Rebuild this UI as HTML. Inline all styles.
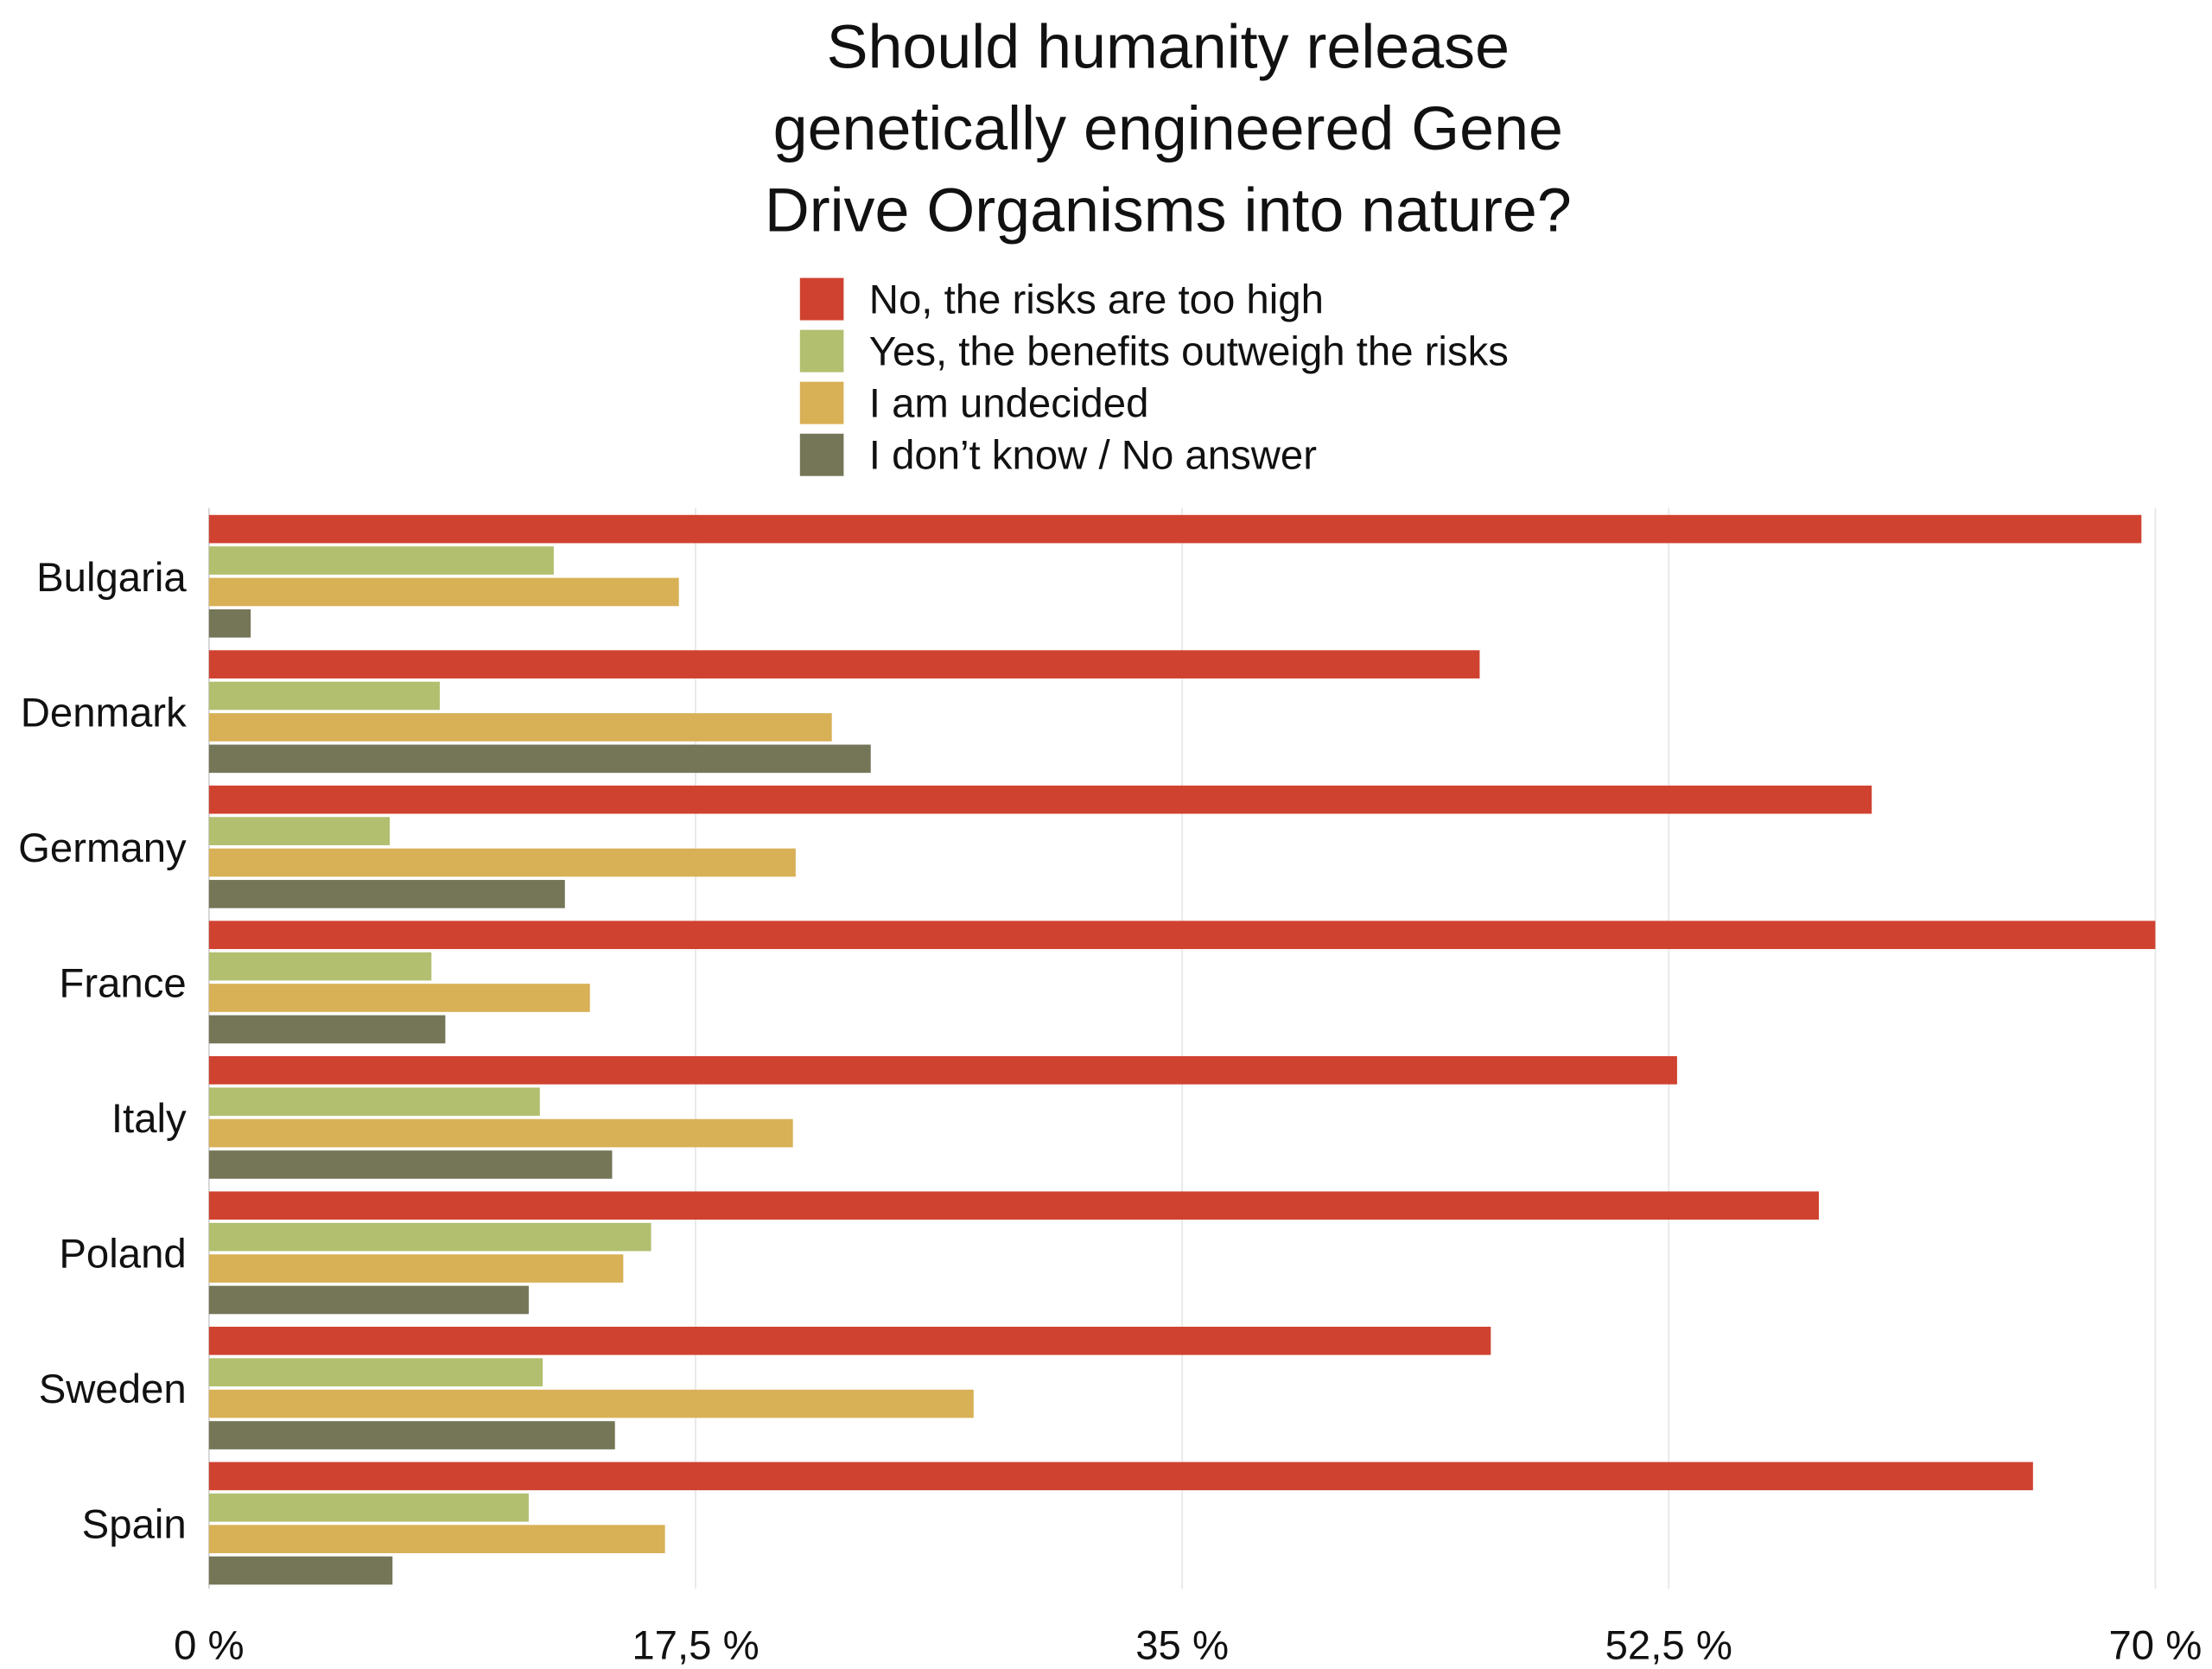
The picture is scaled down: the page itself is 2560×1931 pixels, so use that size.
<!DOCTYPE html>
<html><head><meta charset="utf-8"><style>html,body{margin:0;padding:0;background:#fff}svg{display:block}</style></head>
<body>
<svg id="chart" width="2560" height="1931" viewBox="0 0 1568 1183" xmlns="http://www.w3.org/2000/svg" font-family="'Liberation Sans', sans-serif">
<g font-size="44" text-anchor="middle" fill="#111">
<text x="828" y="48">Should humanity release</text>
<text x="828" y="106">genetically engineered Gene</text>
<text x="828" y="164">Drive Organisms into nature?</text>
</g>
<g id="legend" font-size="29" fill="#111"></g>
<g id="grid"></g>
<g id="bars"></g>
<g id="ylabels" font-size="29" text-anchor="end" fill="#111"></g>
<g id="xlabels" font-size="29" text-anchor="middle" fill="#111"></g>
</svg>
<script>
const categories = ["Bulgaria","Denmark","Germany","France","Italy","Poland","Sweden","Spain"];
const seriesNames = ["No, the risks are too high","Yes, the benefits outweigh the risks","I am undecided","I don\u2019t know / No answer"];
const noValues = [69.5,45.7,59.8,70.0,52.8,57.9,46.1,65.6];
const yesValues = [12.4,8.3,6.5,8.0,11.9,15.9,12.0,11.5];
const undecidedValues = [16.9,22.4,21.1,13.7,21.0,14.9,27.5,16.4];
const dontKnowValues = [1.5,23.8,12.8,8.5,14.5,11.5,14.6,6.6];
const tickValues = [0,17.5,35,52.5,70];
const tickLabels = ["0 %","17,5 %","35 %","52,5 %","70 %"];

const colors = ["#d04230","#b1bf6f","#d8b056","#757558"];
const series = [noValues,yesValues,undecidedValues,dontKnowValues];
const NS="http://www.w3.org/2000/svg";
const x0=148, x1=1528, xmax=70;
const xScale=v=>x0+(x1-x0)*v/xmax;
const top0=365, groupPitch=95.9, barPitch=22.3, barH=20;
const yBar=(ci,si)=>top0+ci*groupPitch+si*barPitch;
function mk(tag,attrs,parent){const e=document.createElementNS(NS,tag);for(const k in attrs)e.setAttribute(k,attrs[k]);parent.appendChild(e);return e;}

const lg=document.getElementById('legend');
seriesNames.forEach((n,i)=>{
  const r=mk('rect',{x:567,y:197+i*36.8,width:31,height:30,fill:colors[i]},lg);
  
  
  const t=mk('text',{x:616,y:222+i*36.8},lg);t.textContent=n;
  
  
});

const grid=document.getElementById('grid');
const xl=document.getElementById('xlabels');
tickValues.forEach((v,i)=>{
  const l=mk('line',{x1:xScale(v),x2:xScale(v),y1:360,y2:1126,stroke:i===0?'#d0d0d0':'#e6e6e6','stroke-width':1},grid);
  
  
  const t=mk('text',{x:xScale(v),y:1176},xl);t.textContent=tickLabels[i];
  
  
});

const bars=document.getElementById('bars');
const yl=document.getElementById('ylabels');
categories.forEach((c,ci)=>{
  series.forEach((s,si)=>{
    const r=mk('rect',{x:x0,y:yBar(ci,si),width:xScale(s[ci])-x0,height:barH,fill:colors[si]},bars);
    
    
  });
  const t=mk('text',{x:132,y:yBar(ci,0)+54},yl);t.textContent=c;
  
  
});
</script>
</body></html>
